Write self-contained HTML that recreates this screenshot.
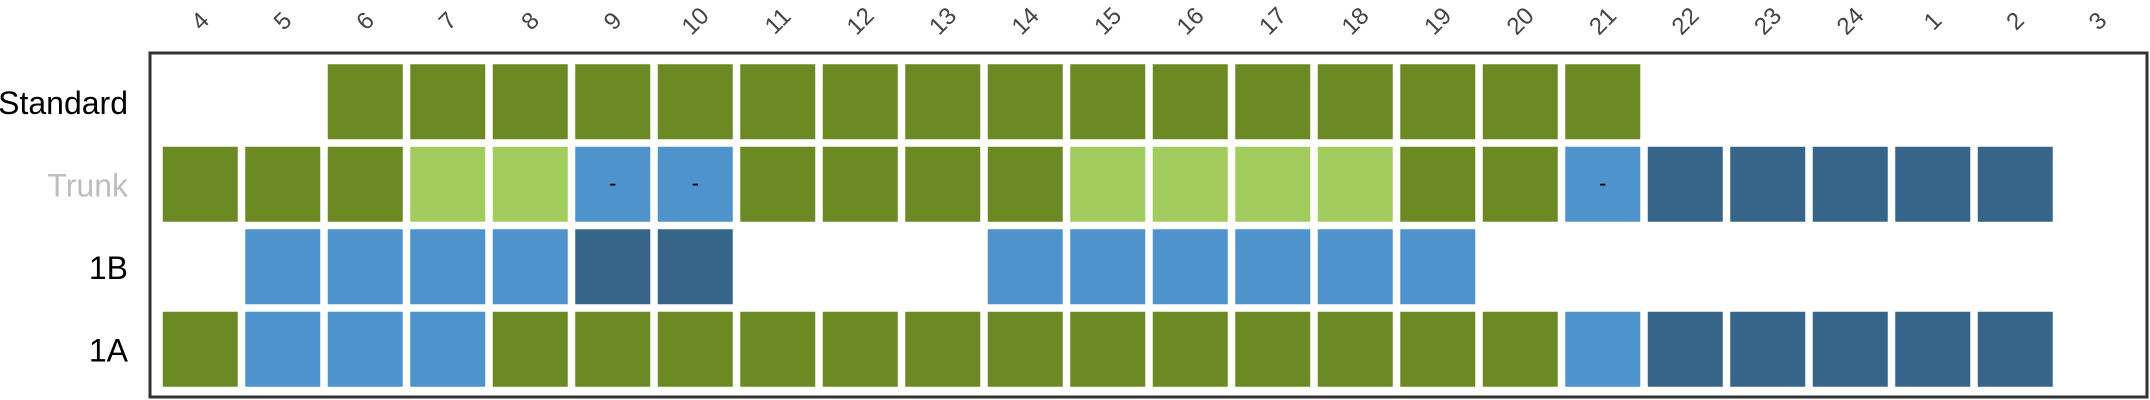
<!DOCTYPE html>
<html><head><meta charset="utf-8"><style>
html,body{margin:0;padding:0;background:#fff;}
svg{display:block;font-family:"Liberation Sans",sans-serif;}
</style></head><body>
<svg id="chart" width="2150" height="400"></svg>
<script>
const categories = ["4","5","6","7","8","9","10","11","12","13","14","15","16","17","18","19","20","21","22","23","24","1","2","3"];
const rowLabels = ["Standard","Trunk","1B","1A"];
// codes: 0 empty, 1 dark green, 2 light green, 3 blue, 4 dark blue
const rowStandard = [0,0,1,1,1,1,1,1,1,1,1,1,1,1,1,1,1,1,0,0,0,0,0,0];
const rowTrunk    = [1,1,1,2,2,3,3,1,1,1,1,2,2,2,2,1,1,3,4,4,4,4,4,0];
const row1B       = [0,3,3,3,3,4,4,0,0,0,3,3,3,3,3,3,0,0,0,0,0,0,0,0];
const row1A       = [1,3,3,3,1,1,1,1,1,1,1,1,1,1,1,1,1,3,4,4,4,4,4,0];
const trunkMarks  = ["","","","","","-","-","","","","","","","","","","","-","","","","","",""];
const rows = [rowStandard,rowTrunk,row1B,row1A];
const colors = [null,"#6B8A23","#A3CC5E","#4F93CD","#376489"];

const svg = document.getElementById('chart');
const NS = "http://www.w3.org/2000/svg";
const px0=150, py0=53, pw=1998, ph=345, pad=9, padY=7.5, step=82.5, cell=75;
function xPos(i){return px0+pad+step*i;}
function yPos(j){return py0+padY+step*j;}
function mk(tag,attrs){const e=document.createElementNS(NS,tag);for(const k in attrs)e.setAttribute(k,attrs[k]);svg.appendChild(e);return e;}

const frame = mk('rect',{x:px0,y:py0,width:pw-1,height:ph-1,fill:'none',stroke:'#333',"stroke-width":3});



rows.forEach((r,j)=>{
  r.forEach((v,i)=>{
    if(!v) return;
    const rc = mk('rect',{x:xPos(i)+(step-cell)/2,y:yPos(j)+(step-cell)/2,width:cell,height:cell,fill:colors[v]});
    
    
  });
  const t = mk('text',{x:128,y:yPos(j)+step/2+12,"text-anchor":"end","font-size":32,fill:(j===1?'#BEBEBE':'#000')});
  t.textContent = rowLabels[j];
  
  
});
trunkMarks.forEach((m,i)=>{
  if(!m) return;
  const t = mk('text',{x:xPos(i)+step/2,y:yPos(1)+step/2+6,"text-anchor":"middle","font-size":22,fill:'#000'});
  t.textContent = m;
  
  
});
categories.forEach((c,i)=>{
  const cx = xPos(i)+step/2, cy = 21;
  const t = mk('text',{x:cx,y:cy+8,"text-anchor":"middle","font-size":24,fill:'#444',transform:`rotate(-45 ${cx} ${cy})`});
  t.textContent = c;
  
  
});
</script>
</body></html>
